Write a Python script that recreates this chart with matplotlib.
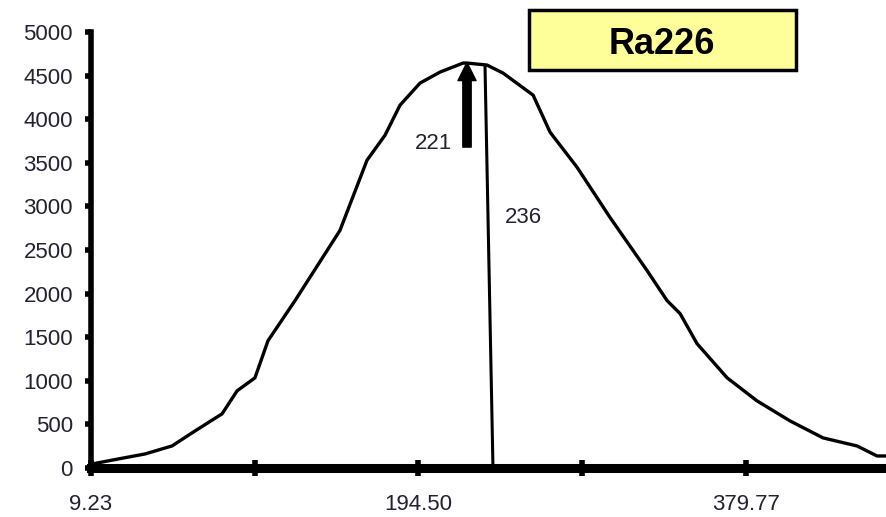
import matplotlib
matplotlib.use('Agg')
import matplotlib.pyplot as plt
from matplotlib.patches import Rectangle

plt.rcParams['font.family'] = ['Liberation Sans', 'DejaVu Sans']

# spectrum (channel, counts)
channels = [9.8, 24.5, 39.8, 55.1, 68.1, 83.4, 91.9, 102.0, 109.4, 124.7,
            150.1, 165.4, 175.6, 184.1, 195.4, 206.7, 219.8, 222.0, 233.3, 242.4,
            259.4, 269.0, 284.3, 302.9, 323.9, 335.2, 342.6, 352.2, 369.2, 386.1,
            404.8, 423.5, 442.7, 454.0, 459.1]
counts = [46, 103, 161, 253, 425, 621, 885, 1034, 1460, 1920,
          2724, 3529, 3816, 4161, 4414, 4540, 4644, 4644, 4621, 4529,
          4276, 3851, 3448, 2874, 2264, 1920, 1770, 1425, 1034, 770,
          540, 345, 253, 138, 138]

x_ticks = [9.23, 101.865, 194.50, 287.135, 379.77]
x_tick_labels = ['9.23', '', '194.50', '', '379.77']
y_ticks = list(range(0, 5001, 500))

peak_arrow = (222.0, 3680, 4650)      # x, tail y, tip y
peak_line = [(232.2, 4600), (236.7, 0)]
label_221 = (202.8, 3724)
label_236 = (253.7, 2874)
title = 'Ra226'

fig = plt.figure(figsize=(8.86, 5.17), dpi=100)
ax = fig.add_axes([91 / 886, 1 - 468 / 517, 1 - 91 / 886, (468 - 32) / 517])

ax.plot(channels, counts, color='black', lw=2.4, solid_joinstyle='round')

ax.set_xlim(9.23, 459.1)
ax.set_ylim(0, 5000)

for s in ['top', 'right']:
    ax.spines[s].set_visible(False)
ax.spines['left'].set_linewidth(4)
ax.spines['bottom'].set_linewidth(6.5)
ax.spines['bottom'].set_zorder(5)

ax.set_xticks(x_ticks)
ax.set_xticklabels(x_tick_labels)
ax.set_yticks(y_ticks)
ax.tick_params(axis='x', direction='inout', length=11, width=4, pad=13,
               labelsize=16, labelcolor='#222233')
ax.tick_params(axis='y', direction='out', length=4, width=4, pad=9,
               labelsize=16, labelcolor='#222233')

# arrow at 221 and line at 236
ax.annotate('', xy=(peak_arrow[0], peak_arrow[2]), xytext=(peak_arrow[0], peak_arrow[1]),
            arrowprops=dict(width=6, headwidth=13, headlength=13, facecolor='black',
                            edgecolor='black', shrink=0))
ax.plot([p[0] for p in peak_line], [p[1] for p in peak_line], color='black', lw=2.2)
ax.text(label_221[0], label_221[1], '221', fontsize=16, color='#222233',
        ha='center', va='center')
ax.text(label_236[0], label_236[1], '236', fontsize=16, color='#222233',
        ha='center', va='center')

# yellow title box
fig.add_artist(Rectangle((529 / 886, 1 - 70 / 517), (796 - 529) / 886, 60 / 517,
                         transform=fig.transFigure, facecolor='#ffff99',
                         edgecolor='black', lw=2.5, zorder=10))
fig.text(662 / 886, 1 - 44 / 517, title, fontsize=26, fontweight='bold',
         ha='center', va='center', zorder=11)

fig.savefig('out.png', dpi=100)
